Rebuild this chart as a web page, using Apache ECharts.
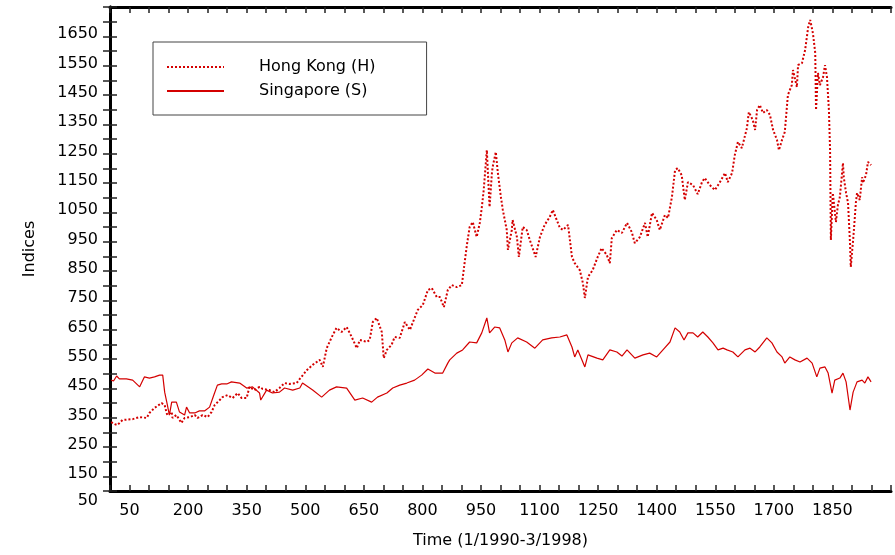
<!DOCTYPE html>
<html><head><meta charset="utf-8">
<script src="https://cdn.jsdelivr.net/npm/echarts@6/dist/echarts.min.js"></script>
<style>html,body{margin:0;padding:0;background:#fff}#c{width:895px;height:555px}</style>
</head><body><div id="c"></div>
<script>
// Hong Kong index (H)
const hkDays = [3,12,19,32,58,76,94,101,114,132,140,145,147,158,160,170,183,191,204,217,224,237,250,260,268,281,288,301,314,327,337,350,357,370,383,391,409,421,434,447,460,478,486,504,519,537,545,555,568,580,593,606,619,632,640,658,665,673,683,696,701,709,721,729,742,755,768,780,788,801,814,824,837,845,855,865,875,888,901,908,914,921,929,939,947,952,957,965,972,978,980,988,993,1001,1006,1016,1019,1029,1031,1042,1047,1057,1067,1075,1090,1101,1113,1126,1134,1144,1152,1160,1173,1183,1190,1203,1211,1216,1224,1236,1249,1259,1272,1280,1285,1298,1311,1324,1336,1344,1357,1370,1377,1388,1400,1408,1421,1429,1439,1447,1454,1464,1472,1480,1493,1505,1516,1523,1536,1549,1562,1575,1582,1593,1600,1608,1618,1631,1636,1646,1652,1657,1664,1672,1682,1690,1698,1708,1713,1721,1728,1736,1746,1749,1759,1762,1772,1780,1788,1793,1800,1806,1808,1813,1818,1826,1831,1836,1841,1844,1846,1851,1859,1864,1869,1877,1879,1885,1890,1895,1897,1903,1905,1910,1913,1920,1926,1928,1936,1941,1949];
const hkValues = [335,328,325,342,345,352,349,366,383,400,393,366,359,369,349,359,332,349,352,359,349,359,352,369,393,410,420,427,417,434,417,417,455,444,455,448,444,437,451,468,465,468,482,512,530,547,523,587,625,656,642,659,625,587,615,608,615,676,690,642,553,581,598,625,622,676,649,690,717,734,785,792,761,761,727,785,802,795,802,877,939,1000,1017,966,1014,1065,1126,1262,1068,1184,1205,1256,1187,1102,1058,990,922,990,1024,966,898,1000,990,956,898,966,1007,1034,1058,1024,997,990,1007,898,877,853,809,758,830,853,898,928,905,877,962,990,980,1014,983,945,966,1014,966,1048,1024,990,1041,1031,1102,1194,1201,1177,1092,1153,1143,1112,1153,1167,1143,1126,1153,1184,1153,1184,1245,1290,1269,1337,1392,1365,1331,1399,1416,1389,1399,1382,1331,1297,1262,1297,1324,1450,1484,1535,1477,1552,1559,1603,1682,1706,1661,1593,1399,1525,1484,1511,1552,1511,1399,1262,956,1116,1017,1075,1102,1218,1170,1116,1082,945,864,956,990,1082,1116,1092,1170,1150,1177,1222,1211];

// Singapore index (S)
const sgDays = [3,9,17,24,42,58,76,88,101,114,127,135,140,147,152,158,170,178,191,196,204,217,229,242,255,265,275,286,299,311,332,350,365,383,386,401,416,434,447,468,486,493,519,542,562,580,606,627,647,670,685,709,724,742,760,780,798,814,832,852,865,870,888,903,921,939,952,965,972,985,998,1011,1019,1029,1044,1067,1088,1108,1131,1152,1170,1183,1190,1198,1216,1224,1247,1262,1280,1298,1311,1324,1344,1365,1382,1400,1416,1434,1447,1459,1470,1480,1493,1505,1518,1531,1544,1557,1570,1580,1595,1608,1626,1639,1652,1664,1682,1695,1708,1721,1728,1741,1754,1767,1785,1798,1810,1818,1831,1839,1849,1856,1869,1877,1885,1895,1903,1913,1926,1933,1941,1949];
const sgValues = [478,475,492,482,482,478,455,489,485,489,495,495,437,393,359,403,403,369,359,386,366,366,373,373,386,424,461,465,465,472,468,451,455,434,410,444,434,437,451,444,451,468,444,420,444,455,451,410,417,403,420,434,451,461,468,478,495,516,502,502,536,547,570,581,608,605,639,690,639,659,656,615,574,605,622,608,587,615,622,625,632,591,557,581,523,564,553,547,581,574,560,581,553,564,570,557,581,608,656,642,615,639,639,625,642,625,605,581,587,581,574,557,581,587,574,591,622,605,574,557,536,557,547,540,553,536,489,519,523,502,434,478,485,502,472,376,437,472,478,468,489,472];

const xTickLabels = [50,200,350,500,650,800,950,1100,1250,1400,1550,1700,1850];
const yTickLabels = [150,250,350,450,550,650,750,850,950,1050,1150,1250,1350,1450,1550,1650];
const yBottomLabel = '50';

const FONT = 'DejaVu Sans';
const hkData = hkDays.map((d, i) => [d, hkValues[i]]);
const sgData = sgDays.map((d, i) => [d, sgValues[i]]);

const frameLine = {show: true, lineStyle: {color: '#000', width: 3}};
const innerTick = (len) => ({show: true, inside: true, length: len, lineStyle: {color: '#222', width: 1.5}});

const chart = echarts.init(document.getElementById('c'), null, {renderer: 'canvas'});
chart.setOption({
  animation: false,
  backgroundColor: '#fff',
  grid: {left: 110, right: 4, top: 7, bottom: 64, containLabel: false},
  legend: {
    orient: 'vertical', left: 153, top: 42,
    padding: [17, 51, 16, 13], itemGap: 8, itemWidth: 57, itemHeight: 14,
    borderColor: '#444', borderWidth: 1,
    itemStyle: {opacity: 0},
    textStyle: {fontSize: 16, fontFamily: FONT, color: '#000', padding: [0, 0, 0, 30]},
    data: ['Hong Kong (H)', 'Singapore (S)']
  },
  xAxis: [
    {
      type: 'value', min: 0, max: 2000, interval: 50, position: 'bottom',
      axisLine: frameLine, axisTick: innerTick(6), splitLine: {show: false},
      axisLabel: {formatter: v => xTickLabels.includes(v) ? String(v) : '', margin: 12, color: '#000', fontSize: 16, fontFamily: FONT},
      name: 'Time (1/1990-3/1998)', nameLocation: 'middle', nameGap: 42,
      nameTextStyle: {fontSize: 16, fontFamily: FONT, color: '#000'}
    },
    {
      type: 'value', min: 0, max: 2000, interval: 50, position: 'top',
      axisLine: frameLine, axisTick: innerTick(6), splitLine: {show: false}, axisLabel: {show: false}
    }
  ],
  yAxis: [
    {
      type: 'value', min: 100, max: 1750, interval: 50, position: 'left',
      axisLine: frameLine, axisTick: innerTick(7), splitLine: {show: false},
      axisLabel: {formatter: v => yTickLabels.includes(v) ? String(v) : '', margin: 12, color: '#000', fontSize: 16, fontFamily: FONT, verticalAlign: 'bottom', lineHeight: 4},
      name: 'Indices', nameLocation: 'middle', nameGap: 72, nameRotate: 90,
      nameTextStyle: {fontSize: 16, fontFamily: FONT, color: '#000'}
    },
    {
      type: 'value', min: 100, max: 1750, interval: 50, position: 'right',
      axisLine: frameLine, axisTick: innerTick(7), splitLine: {show: false}, axisLabel: {show: false}
    },
    {
      type: 'value', min: 100, max: 1750, interval: 50, position: 'left',
      axisLine: {show: false}, axisTick: {show: false}, splitLine: {show: false},
      axisLabel: {formatter: v => v === 100 ? yBottomLabel : '', margin: 12, color: '#000', fontSize: 16, fontFamily: FONT, verticalAlign: 'top', padding: [2, 0, 0, 0]}
    }
  ],
  series: [
    {
      name: 'Hong Kong (H)', type: 'line', data: hkData, symbol: 'none', xAxisIndex: 0, yAxisIndex: 0,
      lineStyle: {color: '#d40000', width: 2, type: [2, 2]}, itemStyle: {color: '#d40000'}
    },
    {
      name: 'Singapore (S)', type: 'line', data: sgData, symbol: 'none', xAxisIndex: 0, yAxisIndex: 0,
      lineStyle: {color: '#d40000', width: 1.2}, itemStyle: {color: '#d40000'}
    }
  ]
});
</script>
</body></html>
